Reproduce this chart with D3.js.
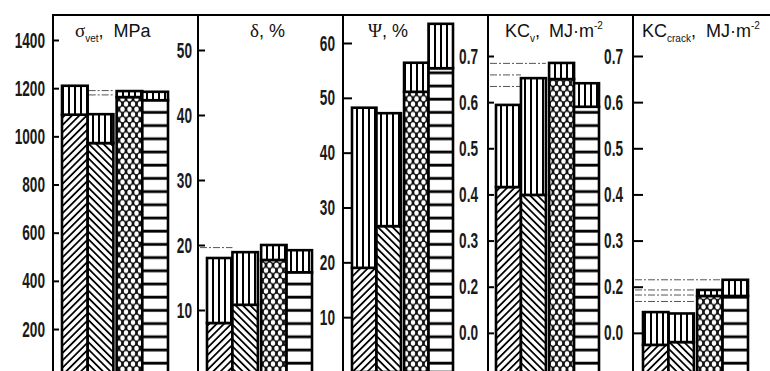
<!DOCTYPE html>
<html><head><meta charset="utf-8">
<script src="https://cdn.jsdelivr.net/npm/d3@7"></script>
<style>body{margin:0;background:#fff}svg{display:block}</style>
</head><body>
<svg id="c" width="770" height="371"></svg>
<script>
// ---------- DATA ----------
const bars = ["A", "B", "C", "D"];
const sigmaBase  = [1090, 972, 1163, 1150];
const sigmaTotal = [1210, 1092, 1188, 1185];
const deltaBase  = [8.0, 10.8, 17.7, 15.8];
const deltaTotal = [18.0, 18.9, 20.0, 19.2];
const psiBase    = [19.0, 26.6, 51.1, 55.4];
const psiTotal   = [48.2, 47.2, 56.4, 63.5];
const kcvBase    = [0.416, 0.399, 0.650, 0.590];
const kcvTotal   = [0.594, 0.652, 0.685, 0.641];
const kccBase    = [0.074, 0.080, 0.180, 0.180];
const kccTotal   = [0.145, 0.142, 0.193, 0.215];

const sigmaTicks = [200, 400, 600, 800, 1000, 1200, 1400];
const deltaTicks = [10, 20, 30, 40, 50];
const psiTicks   = [10, 20, 30, 40, 50, 60];
const kcTicks    = [0.1, 0.2, 0.3, 0.4, 0.5, 0.6, 0.7];
const kcTickLabels = ["0.0", "0.2", "0.3", "0.4", "0.5", "0.6", "0.7"];

// faint dashed reference levels (value, bar they reach to)
const sigmaRefs = [1190, 1172], sigmaRefTo = ["B", "B"];
const deltaRefs = [19.6],       deltaRefTo = ["A"];
const kcvRefs   = [0.684, 0.659, 0.634], kcvRefTo = ["B", "A", "A"];
const kccRefs   = [0.215, 0.193, 0.182, 0.168], kccRefTo = ["C", "B", "B", "B"];

const lowerFill = ["diagR", "diagL", "cross", "horiz"];

// ---------- LAYOUT ----------
const panels = [
  {base: sigmaBase, total: sigmaTotal, ticks: sigmaTicks, labels: null, max: 1400, y0: 377.2, yTop: 40, tick: 6, pad: 8, bx: 9, bw: 106,
   refs: sigmaRefs, refTo: sigmaRefTo, refFromBar: true,
   title: {x: 75, parts: [{t: "σ", serif: true}, {t: "vet", sub: true}, {t: ","}, {t: "MPa", dx: 10}]}},
  {base: deltaBase, total: deltaTotal, ticks: deltaTicks, labels: null, max: 50, y0: 375, yTop: 50, tick: 7, pad: 6, bx: 9, bw: 105,
   refs: deltaRefs, refTo: deltaRefTo,
   title: {x: 250, parts: [{t: "δ", serif: true}, {t: ", %"}]}},
  {base: psiBase, total: psiTotal, ticks: psiTicks, labels: null, max: 60, y0: 372, yTop: 43, tick: 9, pad: 8, bx: 9, bw: 101,
   refs: [], refTo: [],
   title: {x: 368, parts: [{t: "Ψ", serif: true}, {t: ", %"}]}},
  {base: kcvBase, total: kcvTotal, ticks: kcTicks, labels: kcTickLabels, max: 0.7, y0: 379, yTop: 56, tick: 6, pad: 10, bx: 8, bw: 103,
   refs: kcvRefs, refTo: kcvRefTo,
   title: {x: 505, parts: [{t: "KC"}, {t: "v", sub: true}, {t: ","}, {t: "MJ·m", dx: 9}, {t: "-2", sup: true}]}},
  {base: kccBase, total: kccTotal, ticks: kcTicks, labels: kcTickLabels, max: 0.7, y0: 379, yTop: 56, tick: 10, pad: 10, bx: 10, bw: 105,
   refs: kccRefs, refTo: kccRefTo,
   title: {x: 642, parts: [{t: "KC"}, {t: "crack", sub: true}, {t: ","}, {t: "MJ·m", dx: 10}, {t: "-2", sup: true}]}}
];

const svg = d3.select("#c");
const W = 770, H = 371, frameTop = 15;
const panelX = d3.scaleBand().domain(d3.range(panels.length)).range([53, 53 + 145 * panels.length]);

// ---------- PATTERNS ----------
const defs = svg.append("defs");
function linePattern(id, w, angle, sw) {
  const p = defs.append("pattern").attr("id", id).attr("patternUnits", "userSpaceOnUse")
    .attr("width", w).attr("height", w);
  if (angle) p.attr("patternTransform", `rotate(${angle})`);
  p.append("rect").attr("width", w).attr("height", w).attr("fill", "#fff");
  p.append("line").attr("x1", w / 2).attr("x2", w / 2).attr("y1", -1).attr("y2", w + 1)
    .attr("stroke", "#000").attr("stroke-width", sw);
}
linePattern("vert", 6, 0, 2);
linePattern("diagR", 5.2, 45, 1.8);
linePattern("diagL", 5.2, -45, 1.8);
{
  const p = defs.append("pattern").attr("id", "horiz").attr("patternUnits", "userSpaceOnUse")
    .attr("width", 10).attr("height", 13.2);
  p.append("rect").attr("width", 10).attr("height", 13.2).attr("fill", "#fff");
  p.append("rect").attr("y", 5.4).attr("width", 10).attr("height", 2.8).attr("fill", "#000");
}
{
  const w = 7, h = 10.4;
  const p = defs.append("pattern").attr("id", "cross").attr("patternUnits", "userSpaceOnUse")
    .attr("width", w).attr("height", h);
  p.append("rect").attr("width", w).attr("height", h).attr("fill", "#111");
  [[0, 0], [w, 0], [w / 2, h / 2], [0, h], [w, h]].forEach(([cx, cy]) =>
    p.append("ellipse").attr("cx", cx).attr("cy", cy).attr("rx", 2.2).attr("ry", 2.6).attr("fill", "#fff"));
}

// ---------- DRAW ----------
panels.forEach((P, i) => {
  const x0 = panelX(i);
  const g = svg.append("g");
  const y = d3.scaleLinear().domain([0, P.max]).range([P.y0, P.yTop]);

  // bar positions: two adjacent pairs
  const outer = d3.scaleBand().domain(["p1", "p2"]).range([x0 + P.bx, x0 + P.bx + P.bw]).paddingInner(0.06);
  const inner = d3.scaleBand().domain([0, 1]).range([0, outer.bandwidth()]);
  const bx = (k) => outer(k < 2 ? "p1" : "p2") + inner(k % 2);
  const bw = inner.bandwidth();

  // reference dashed lines
  P.refs.forEach((v, j) => {
    const k = bars.indexOf(P.refTo[j]);
    const xa = P.refFromBar ? bx(k) + 1 : x0 + 2;
    g.append("line").attr("x1", xa).attr("x2", bx(k) + bw)
      .attr("y1", y(v)).attr("y2", y(v))
      .attr("stroke", "#555").attr("stroke-width", 1).attr("stroke-dasharray", "7,2,2,2");
  });

  // bars
  const data = bars.map((b, k) => ({k, base: P.base[k], total: P.total[k]}));
  const bg = g.selectAll("g.bar").data(data).join("g").attr("class", "bar");
  bg.append("rect")
    .attr("x", d => bx(d.k)).attr("width", bw)
    .attr("y", d => y(d.base)).attr("height", d => y(0) - y(d.base))
    .attr("fill", d => `url(#${lowerFill[d.k]})`)
    .attr("stroke", "#000").attr("stroke-width", 2.6);
  bg.append("rect")
    .attr("x", d => bx(d.k)).attr("width", bw)
    .attr("y", d => y(d.total)).attr("height", d => y(d.base) - y(d.total))
    .attr("fill", "url(#vert)")
    .attr("stroke", "#000").attr("stroke-width", 2.6);

  // axis (ticks point into the panel, labels to the left of the border)
  const axis = d3.axisLeft(y).tickValues(P.ticks).tickSize(-P.tick).tickPadding(P.pad)
    .tickFormat((d, j) => P.labels ? P.labels[j] : d3.format("d")(d));
  const ag = svg.append("g").attr("transform", `translate(${x0},0)`).call(axis);
  ag.select(".domain").remove();
  ag.selectAll(".tick line").attr("stroke", "#000").attr("stroke-width", 2);
  const sx = 0.62;
  ag.selectAll(".tick text")
    .attr("font-family", "'Liberation Sans', Arial, sans-serif").attr("font-size", 22)
    .attr("font-weight", "bold").attr("fill", "#1a1a1a")
    .attr("transform", `scale(${sx},1)`).attr("x", -P.pad / sx);

  // panel border
  svg.append("line").attr("x1", x0).attr("x2", x0).attr("y1", frameTop - 1).attr("y2", H)
    .attr("stroke", "#000").attr("stroke-width", 2);

  // title
  const t = svg.append("text").attr("x", P.title.x).attr("y", 37)
    .attr("font-family", "'Liberation Sans', Arial, sans-serif").attr("font-size", 18).attr("fill", "#111");
  let shift = 0;
  P.title.parts.forEach(p => {
    const s = t.append("tspan").text(p.t);
    let target = p.sub ? 5 : p.sup ? -8 : 0;
    s.attr("dy", target - shift); shift = target;
    if (p.sub || p.sup) s.attr("font-size", 10);
    if (p.serif) s.attr("font-family", "'Liberation Serif', 'DejaVu Serif', serif").attr("font-size", 19);
    if (p.dx) s.attr("dx", p.dx);
  });
});

// top frame line
svg.append("line").attr("x1", 52).attr("x2", W).attr("y1", frameTop).attr("y2", frameTop)
  .attr("stroke", "#000").attr("stroke-width", 2);
</script>
</body></html>
